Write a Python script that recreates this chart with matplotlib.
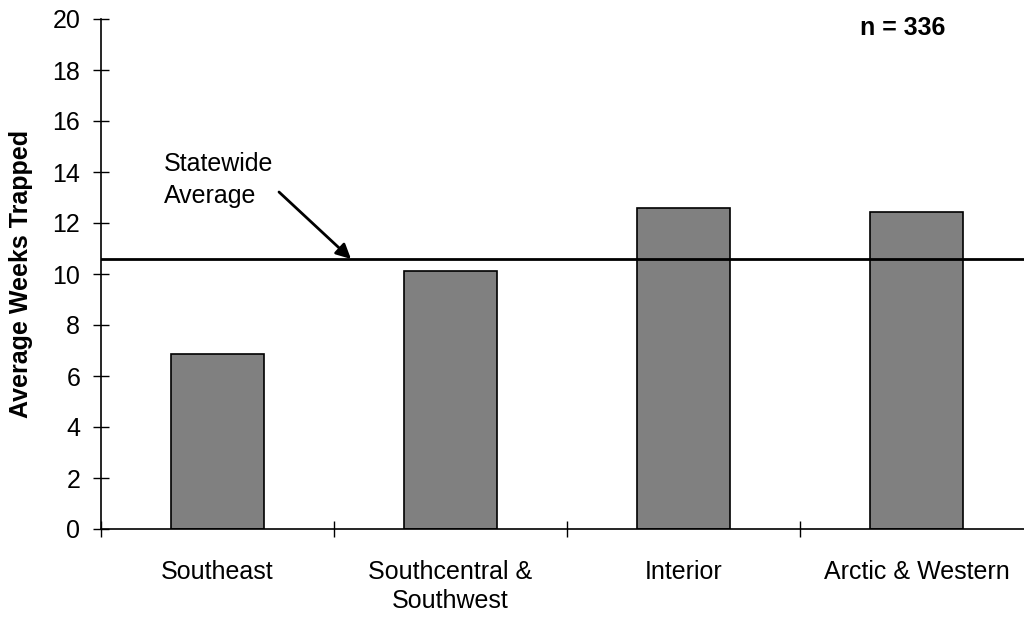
import matplotlib
matplotlib.use("Agg")
import matplotlib.pyplot as plt

categories = ["Southeast", "Southcentral &\nSouthwest", "Interior", "Arctic & Western"]
values = [6.88, 10.1, 12.6, 12.45]
statewide_avg = 10.57
yticks = list(range(0, 21, 2))

plt.rcParams['font.family'] = ['Liberation Sans', 'DejaVu Sans']

fig = plt.figure(figsize=(10.24, 6.19), dpi=100)
ax = fig.add_axes([101/1024, 1-529/619, 932/1024, 510/619])

x = list(range(len(categories)))
ax.bar(x, values, width=0.40, color="#808080", edgecolor="black", linewidth=1.2, zorder=2)
ax.axhline(statewide_avg, color="black", linewidth=2, zorder=3)

ax.set_xlim(-0.5, 3.5)
ax.set_ylim(0, 20)
ax.set_yticks(yticks)
ax.set_xticks([-0.5, 0.5, 1.5, 2.5, 3.5])
ax.set_xticklabels([])
ax.set_xticks(x, minor=True)
ax.set_xticklabels(categories, minor=True, fontsize=18, linespacing=1.3)
ax.tick_params(axis='x', which='minor', length=0, pad=22)
ax.tick_params(axis='x', which='major', direction='inout', length=12, width=1)
ax.tick_params(axis='y', direction='inout', length=12, width=1, labelsize=18, pad=9)

for s in ['top', 'right']:
    ax.spines[s].set_visible(False)
for s in ['left', 'bottom']:
    ax.spines[s].set_linewidth(1.2)

ax.set_ylabel("Average Weeks Trapped", fontsize=18, fontweight='bold', labelpad=14)

fig.text(164/1024, 1-152/619, "Statewide\nAverage", fontsize=18, ha='left', va='top',
         linespacing=1.4)
ax.annotate("", xy=(351, 619-259), xycoords='figure pixels',
            xytext=(279, 619-192), textcoords='figure pixels',
            arrowprops=dict(arrowstyle='-|>', color='black', lw=2, mutation_scale=22,
                            shrinkA=0, shrinkB=0))

fig.text(903/1024, 1-28/619, "n = 336", fontsize=18, fontweight='bold', ha='center', va='center')

fig.savefig("out.png", dpi=100)
